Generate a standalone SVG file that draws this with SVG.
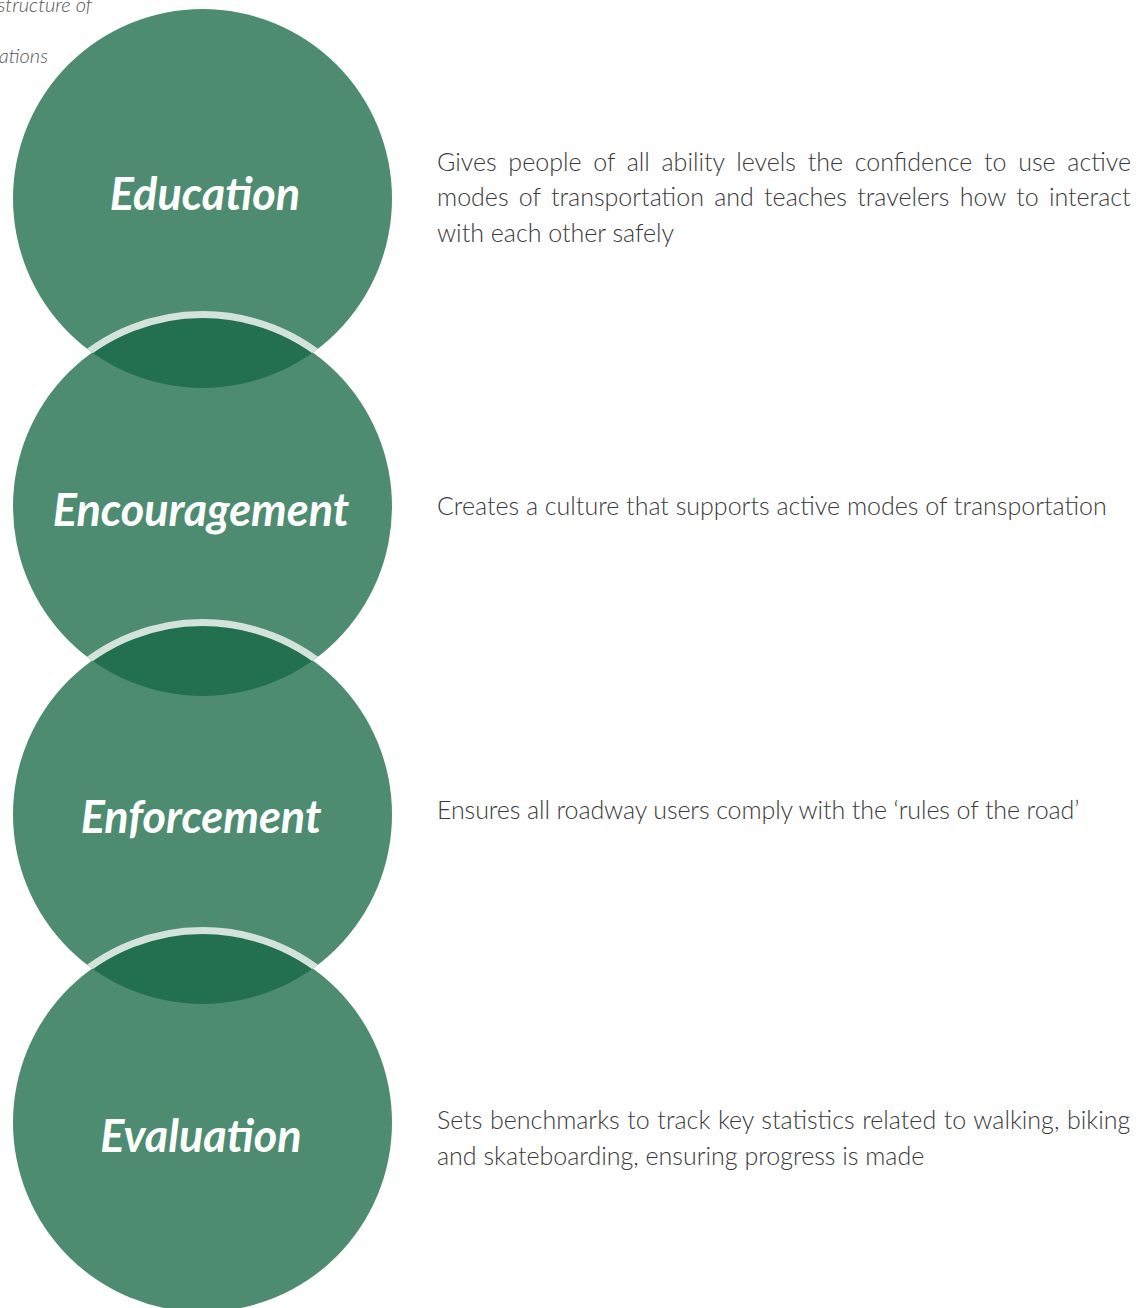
<svg xmlns="http://www.w3.org/2000/svg" width="1146" height="1308" viewBox="0 0 1146 1308">
<defs>
<style>
.circ{fill:#4E8C72}
.lens{fill:#22704F}
.ring{fill:none;stroke:#D3E3DC;stroke-width:7}
.title{font-family:Lato,"Liberation Sans",sans-serif;font-weight:700;font-style:italic;font-size:45px;fill:#FFFFFF;text-anchor:middle}
.desc{font-family:Lato,"Liberation Sans",sans-serif;font-weight:300;font-size:25px;fill:#3A3A3A}
.note{font-family:Lato,"Liberation Sans",sans-serif;font-weight:300;font-style:italic;font-size:20px;fill:#555555;text-anchor:end}
</style>
<clipPath id="c1"><circle cx="202.5" cy="198.5" r="189.5"/></clipPath>
<clipPath id="c2"><circle cx="202.5" cy="506.5" r="189.5"/></clipPath>
<clipPath id="c3"><circle cx="202.5" cy="814.5" r="189.5"/></clipPath>
</defs>
<text class="note" x="92" y="12">structure of</text>
<text class="note" x="48" y="63">ations</text>
<g id="education">
<circle class="circ" cx="202.5" cy="198.5" r="189.5"/>
<text class="title" x="205" y="210">Education</text>
</g>
<g id="encouragement">
<circle class="circ" cx="202.5" cy="506.5" r="189.5"/>
<text class="title" x="201" y="526">Encouragement</text>
</g>
<g id="enforcement">
<circle class="circ" cx="202.5" cy="814.5" r="189.5"/>
<text class="title" x="201" y="833">Enforcement</text>
</g>
<g id="evaluation">
<circle class="circ" cx="202.5" cy="1122.5" r="189.5"/>
<text class="title" x="201" y="1152">Evaluation</text>
</g>
<g id="connectors">
<circle class="lens" cx="202.5" cy="506.5" r="189.5" clip-path="url(#c1)"/>
<circle class="ring" cx="202.5" cy="506.5" r="192" clip-path="url(#c1)"/>
<circle class="lens" cx="202.5" cy="814.5" r="189.5" clip-path="url(#c2)"/>
<circle class="ring" cx="202.5" cy="814.5" r="192" clip-path="url(#c2)"/>
<circle class="lens" cx="202.5" cy="1122.5" r="189.5" clip-path="url(#c3)"/>
<circle class="ring" cx="202.5" cy="1122.5" r="192" clip-path="url(#c3)"/>
</g>
<g id="desc-education">
<text class="desc" x="437" y="171" word-spacing="4.9">Gives people of all ability levels the confidence to use active</text>
<text class="desc" x="437" y="206" word-spacing="3.5">modes of transportation and teaches travelers how to interact</text>
<text class="desc" x="437" y="242">with each other safely</text>
</g>
<g id="desc-encouragement">
<text class="desc" x="437" y="515">Creates a culture that supports active modes of transportation</text>
</g>
<g id="desc-enforcement">
<text class="desc" x="437" y="819" letter-spacing="-0.1">Ensures all roadway users comply with the ‘rules of the road’</text>
</g>
<g id="desc-evaluation">
<text class="desc" x="437" y="1129" word-spacing="0.8">Sets benchmarks to track key statistics related to walking, biking</text>
<text class="desc" x="437" y="1165">and skateboarding, ensuring progress is made</text>
</g>
</svg>
